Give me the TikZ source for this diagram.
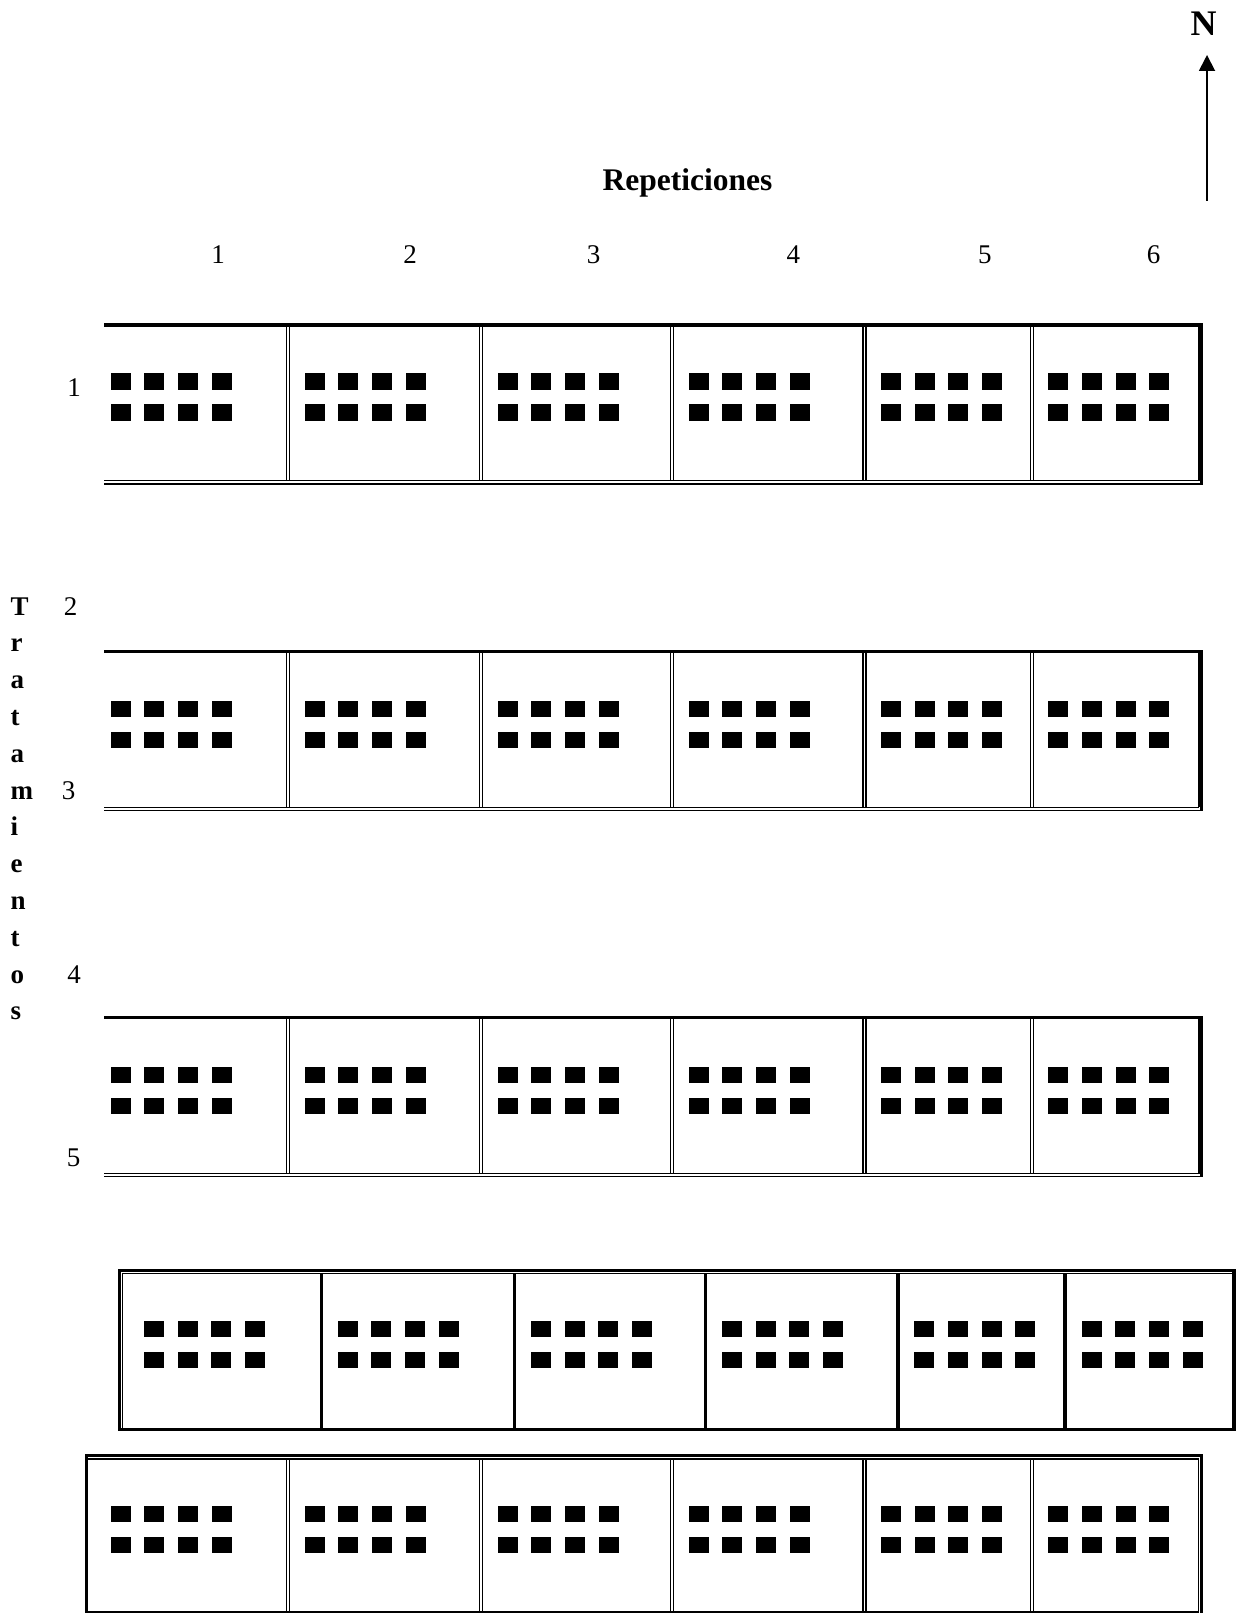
\documentclass[tikz,border=0pt]{standalone}
\usepackage{fontspec}
\setmainfont{Liberation Serif}
\usetikzlibrary{arrows.meta}
% eight plot squares of one cell: #1 = left x of first square, #2 = top y
\newcommand\plotgroup[2]{%
  \foreach \i in {0,1,2,3}{\foreach \j in {0,1}{%
    \fill[plotsq] ({#1+\i*33.67},{#2+\j*31}) rectangle ++(20,16.7);}}}
\begin{document}
\begin{tikzpicture}[x=1pt,y=-1pt,
  thickline/.style={line width=3.4pt},
  thinline/.style={line width=1.3pt},
  plotsq/.style={fill=black},
  lbl/.style={inner sep=0pt,font=\fontsize{27}{32}\selectfont},
  blbl/.style={inner sep=0pt,font=\fontsize{27}{32}\selectfont\bfseries},
  hdr/.style={inner sep=0pt,font=\fontsize{31.5}{36}\selectfont\bfseries},
  nlbl/.style={inner sep=0pt,font=\fontsize{36}{40}\selectfont\bfseries}]
\useasboundingbox (0,0) rectangle (1239,1613);

% ---------- texts ----------
\node[hdr,anchor=base] (rep) at (687.4,190.7) {Repeticiones};
\foreach \x [count=\k] in {218,410,593.7,793.4,984.8,1153.6}{
  \node[lbl,anchor=base] (col\k) at (\x,263.3) {\k};}
\node[lbl,anchor=base] (row1) at (74,396.2) {1};
\node[lbl,anchor=base] (row2) at (70.5,615) {2};
\node[lbl,anchor=base] (row3) at (68.5,799.5) {3};
\node[lbl,anchor=base] (row4) at (74,983.3) {4};
\node[lbl,anchor=base] (row5) at (73.7,1166.7) {5};
\foreach \l [count=\k from 0] in {T,r,a,t,a,m,i,e,n,t,o,s}{
  \node[blbl,anchor=base west] (tr\k) at (10.5,{615+\k*36.8}) {\l};}

% ---------- north arrow ----------
\node[nlbl,anchor=base] (north) at (1203.5,36) {N};
\coordinate (ntail) at (1207,201);
\coordinate (ntip) at (1207,55);
\draw[line width=1.8pt,-{Triangle[length=16pt,width=16pt]}] (ntail) -- (ntip);

% ---------- rows 1-3 (open on the left) ----------
\foreach \t in {325,651.5,1017.7}{
  \draw[thickline] (104,\t) -- (1203,\t);
  \draw[thinline] (104,{\t+155.8}) -- (1199,{\t+155.8});
  \draw[thinline] (104,{\t+158.9}) -- (1202.7,{\t+158.9});
  \draw[thinline] (1199,\t) -- (1199,{\t+155.8});
  \draw[line width=2.6pt] (1201.4,\t) -- (1201.4,{\t+159.5});
  \foreach \d in {288.2,481.3,672.3,864.6,1031.7}{
    \draw[thinline] ({\d-1.5},\t) -- ({\d-1.5},{\t+155.8});
    \draw[thinline] ({\d+1.5},\t) -- ({\d+1.5},{\t+155.8});}
}
\foreach \s in {110.7,304.5,497.8,688.8,881.1,1048.3}{
  \plotgroup{\s}{373.3}
  \plotgroup{\s}{700.7}
  \plotgroup{\s}{1066.7}
}

% ---------- row 4 (shifted right) ----------
\draw[line width=2.6pt] (118.2,1270.5) -- (1235.5,1270.5);
\draw[line width=2.6pt] (119.5,1269.2) -- (119.5,1430.8);
\draw[thinline] (122.4,1273.6) -- (1232,1273.6);
\draw[thinline] (122.4,1273.6) -- (122.4,1428);
\draw[line width=4pt] (1233.7,1269.2) -- (1233.7,1430.8);
\draw[line width=3.2pt] (118.2,1429.2) -- (1235.7,1429.2);
\foreach \d in {288.2,481.3,672.3,864.6,1031.7}{
  \draw[line width=3.3pt] ({\d+33.3},1273.6) -- ({\d+33.3},1428);}
\foreach \s in {110.7,304.5,497.8,688.8,881.1,1048.3}{
  \plotgroup{\s+33.3}{1320.7}}

% ---------- row 5 ----------
\draw[line width=2.4pt] (85,1455.5) -- (1202.7,1455.5);
\draw[thinline] (88,1459) -- (1199,1459);
\draw[line width=3.3pt] (86.7,1454.3) -- (86.7,1613);
\draw[thinline] (1198.7,1459) -- (1198.7,1613);
\draw[line width=2.6pt] (1201.4,1454.3) -- (1201.4,1613);
\draw[thinline] (86.7,1611.9) -- (1199,1611.9);
\foreach \d in {288.2,481.3,672.3,864.6,1031.7}{
  \draw[thinline] ({\d-1.5},1459) -- ({\d-1.5},1613);
  \draw[thinline] ({\d+1.5},1459) -- ({\d+1.5},1613);}
\foreach \s in {110.7,304.5,497.8,688.8,881.1,1048.3}{
  \plotgroup{\s}{1505.7}}
\end{tikzpicture}
\end{document}
